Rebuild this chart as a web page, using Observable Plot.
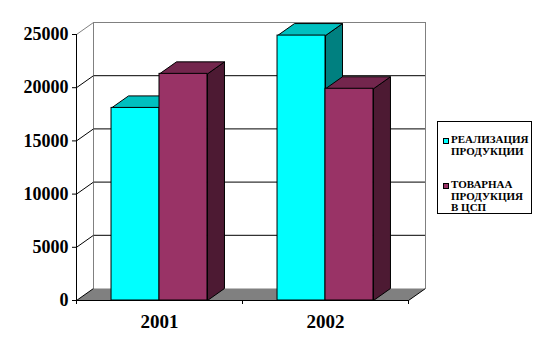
<!DOCTYPE html>
<html>
<head>
<meta charset="utf-8">
<script src="https://cdn.jsdelivr.net/npm/d3@7"></script>
<script src="https://cdn.jsdelivr.net/npm/@observablehq/plot@0.6"></script>
<style>
  html, body { margin: 0; padding: 0; background: #fff; }
  #wrap { position: relative; width: 540px; height: 358px; overflow: hidden; }
  #wrap svg text { font-family: "Liberation Serif", "Times New Roman", serif; font-weight: bold; }
  .legend { position: absolute; left: 437px; top: 121px; width: 93px; height: 91px; border: 1px solid #000; background: #fff;
            font-family: "Liberation Serif", "Times New Roman", serif; font-weight: bold; font-size: 11px; line-height: 11.7px; color: #000; }
  .entry { position: absolute; left: 13px; white-space: nowrap; }
  .sw { position: absolute; width: 4px; height: 4px; border: 1px solid #000; left: 5px; }
</style>
</head>
<body>
<div id="wrap"></div>
<script>
// ---- data ----
const categories = ["2001", "2002"];
const seriesNames = ["РЕАЛИЗАЦИЯ ПРОДУКЦИИ", "ТОВАРНАА ПРОДУКЦИЯ В ЦСП"];
const legendLines = [["РЕАЛИЗАЦИЯ", "ПРОДУКЦИИ"], ["ТОВАРНАА", "ПРОДУКЦИЯ", "В ЦСП"]];
const realizationValues = [18100, 24900];
const commodityValues = [21300, 19900];
const yTicks = [0, 5000, 10000, 15000, 20000, 25000];

// ---- style ----
const frontColors = ["#00FFFF", "#993366"];
const topColors = ["#00C0C0", "#73264D"];
const sideColors = ["#008080", "#4D1A33"];
const W = 540, H = 358;
const mL = 76, mR = 132, mT = 34, mB = 58;
const depthXpx = 17, depthYpx = 12;
const barWidth = 0.289; // in category units

const xDomain = [0, categories.length];
const yDomain = [0, 25000];
const pxPerX = (W - mL - mR) / (xDomain[1] - xDomain[0]);
const pxPerY = (H - mT - mB) / (yDomain[1] - yDomain[0]);
const DX = depthXpx / pxPerX;   // depth offset in x units
const DY = depthYpx / pxPerY;   // depth offset in y units

const seriesValues = [realizationValues, commodityValues];
const bars = [];
categories.forEach((c, i) => {
  seriesValues.forEach((vals, s) => {
    const x1 = i + 0.5 + (s - 1) * barWidth;
    bars.push({cat: c, s, x1, x2: x1 + barWidth, v: vals[i], id: c + "-" + s});
  });
});
const polys = [];
for (const b of bars) {
  const top = [[b.x1, b.v], [b.x2, b.v], [b.x2 + DX, b.v + DY], [b.x1 + DX, b.v + DY], [b.x1, b.v]];
  const side = [[b.x2, 0], [b.x2, b.v], [b.x2 + DX, b.v + DY], [b.x2 + DX, DY], [b.x2, 0]];
  top.forEach(([x, y]) => polys.push({face: "top", s: b.s, id: b.id, x, y}));
  side.forEach(([x, y]) => polys.push({face: "side", s: b.s, id: b.id, x, y}));
}
const floor = [[0, 0], [xDomain[1], 0], [xDomain[1] + DX, DY], [DX, DY], [0, 0]].map(([x, y]) => ({x, y}));

const faceMark = (face, s, fill) => Plot.line(polys.filter(d => d.face === face && d.s === s),
  {x: "x", y: "y", z: "id", fill, stroke: "#000", strokeWidth: 1, strokeLinejoin: "miter", strokeLinecap: "butt"});

const plot = Plot.plot({
  width: W, height: H,
  marginLeft: mL, marginRight: mR, marginTop: mT, marginBottom: mB,
  x: {type: "linear", domain: xDomain},
  y: {type: "linear", domain: yDomain},
  marks: [
    // back wall gridlines and border
    Plot.ruleY(yTicks.filter(t => t > 0 && t < 25000), {x1: xDomain[0], x2: xDomain[1], dx: depthXpx, dy: -depthYpx, stroke: "#000"}),
    Plot.ruleY([25000], {x1: xDomain[0], x2: xDomain[1], dx: depthXpx, dy: -depthYpx, stroke: "#808080"}),
    Plot.ruleX(xDomain, {y1: 0, y2: 25000, dx: depthXpx, dy: -depthYpx, stroke: "#808080"}),
    // left wall diagonals
    Plot.link(yTicks.filter(t => t > 0 && t < 25000), {x1: 0, y1: d => d, x2: DX, y2: d => d + DY, stroke: "#000"}),
    Plot.link([25000], {x1: 0, y1: d => d, x2: DX, y2: d => d + DY, stroke: "#808080"}),
    // floor
    Plot.line(floor, {x: "x", y: "y", fill: "#808080", stroke: "none"}),
    Plot.link([0, xDomain[1]], {x1: d => d, y1: 0, x2: d => d + DX, y2: DY, stroke: "#000"}),
    // bars: sides, tops, fronts
    faceMark("side", 0, sideColors[0]),
    faceMark("side", 1, sideColors[1]),
    faceMark("top", 0, topColors[0]),
    faceMark("top", 1, topColors[1]),
    Plot.rect(bars.filter(b => b.s === 0), {x1: "x1", x2: "x2", y1: 0, y2: "v", fill: frontColors[0], stroke: "#000"}),
    Plot.rect(bars.filter(b => b.s === 1), {x1: "x1", x2: "x2", y1: 0, y2: "v", fill: frontColors[1], stroke: "#000"}),
    // axes
    Plot.ruleX([0], {y1: 0, y2: 25000, stroke: "#000"}),
    Plot.ruleY([0], {x1: xDomain[0], x2: xDomain[1], stroke: "#000"}),
    Plot.axisY({ticks: yTicks, tickSize: 4, tickPadding: 4, fontSize: 18, label: null, tickFormat: d => String(d)}),
    Plot.axisX({ticks: d3.range(categories.length + 1), tickSize: 4, tickFormat: () => "", label: null}),
    Plot.axisX({ticks: categories.map((c, i) => i + 0.5), tickSize: 0, tickPadding: 14, fontSize: 19, label: null,
                tickFormat: d => categories[Math.floor(d)]})
  ]
});
const wrap = document.getElementById("wrap");
wrap.appendChild(plot);

// legend
const legend = document.createElement("div");
legend.className = "legend";
const entryTops = [12.4, 57];
legendLines.forEach((lines, s) => {
  const e = document.createElement("div");
  e.className = "entry";
  e.style.top = entryTops[s] + "px";
  e.innerHTML = lines.join("<br>");
  e.title = seriesNames[s];
  legend.appendChild(e);
  const sw = document.createElement("div");
  sw.className = "sw";
  sw.style.top = (entryTops[s] + 3.5) + "px";
  sw.style.background = frontColors[s];
  legend.appendChild(sw);
});
wrap.appendChild(legend);
</script>
</body>
</html>
